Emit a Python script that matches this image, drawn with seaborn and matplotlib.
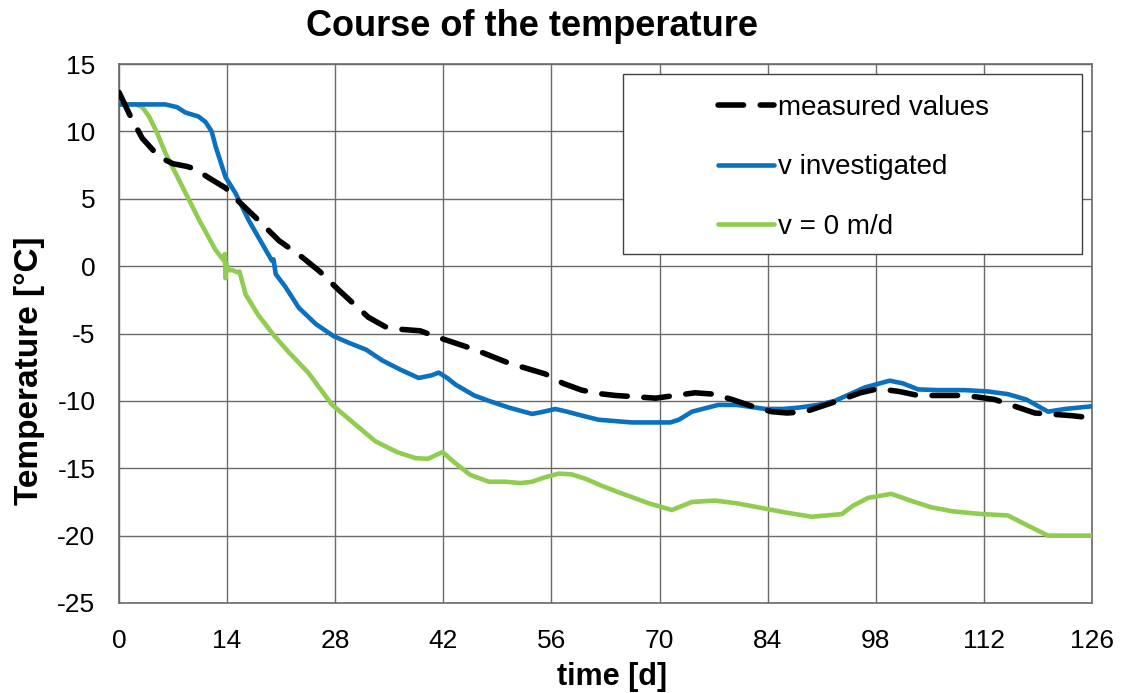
import matplotlib
matplotlib.use("Agg")
import matplotlib.pyplot as plt
import seaborn as sns
import pandas as pd
from matplotlib.patches import Rectangle

# ---- data ----
measured_days = [0, 1.5, 3, 5.2, 7, 8.8, 9.9, 11.5, 13.8, 15.5, 17.7, 20.7, 23.7, 26, 28.5,
                 32.3, 34.5, 36.7, 39, 41.4, 43.5, 46.1, 50.5, 55.2, 57.5, 59.9, 62, 64.3,
                 67, 69.5, 72, 74.6, 77, 79.4, 82, 84.5, 86.5, 88.9, 91, 93.6, 96, 98.3,
                 101, 103.5, 106, 108.7, 111, 113.4, 116, 118.6, 121, 123.4, 125]
measured_vals = [12.9, 11.1, 9.5, 8.1, 7.6, 7.4, 7.2, 6.6, 5.8, 4.8, 3.6, 1.9, 0.67, -0.4, -1.8,
                 -3.8, -4.5, -4.7, -4.8, -5.3, -5.7, -6.2, -7.2, -8.0, -8.7, -9.2, -9.45, -9.6,
                 -9.7, -9.8, -9.6, -9.4, -9.5, -9.9, -10.4, -10.8, -10.9, -10.8, -10.4, -9.9, -9.4, -9.1,
                 -9.3, -9.6, -9.6, -9.6, -9.7, -9.9, -10.4, -10.9, -11.0, -11.1, -11.2]

inv_days = [0, 3, 6, 7.5, 8.6, 10.3, 11.2, 12.0, 12.5, 13.8, 15.1, 16.8, 18.0, 19.0, 19.8, 20.0,
            20.3, 21.5, 23.3, 25.5, 27.8, 29.8, 32, 34.1, 36.5, 38.8, 40.5, 41.4, 42.5, 43.6, 46,
            47.9, 50.5, 53.5, 55, 56.5, 58, 60, 62.1, 66.4, 69, 71.4, 72.5, 74.2, 77.6, 80, 83.7,
            86, 88, 90.5, 92.7, 96.6, 99.8, 101.5, 103.5, 106, 109.5, 112.5, 115.1, 117.5, 120.3,
            122.5, 126]
inv_vals = [12, 12, 12, 11.8, 11.4, 11.1, 10.7, 10.0, 8.9, 6.6, 5.4, 3.4, 2.2, 1.2, 0.4, 0.5,
            -0.6, -1.5, -3.1, -4.3, -5.2, -5.7, -6.2, -7.0, -7.7, -8.3, -8.1, -7.9, -8.3, -8.8, -9.6,
            -10.0, -10.5, -10.97, -10.8, -10.6, -10.8, -11.1, -11.4, -11.6, -11.6, -11.6, -11.4, -10.8,
            -10.3, -10.3, -10.6, -10.6, -10.5, -10.3, -10.0, -9.0, -8.5, -8.7, -9.15, -9.2, -9.2, -9.3,
            -9.5, -9.9, -10.8, -10.6, -10.4]

zero_days = [0, 2.2, 3.0, 3.9, 5, 6.0, 8.2, 10.4, 12.5, 13.6, 13.7, 13.8, 13.9, 14.2, 14.7, 15.3,
             15.6, 16.4, 18, 20, 22, 24.5, 27.6, 30.5, 33.2, 36, 38.4, 40, 41.9, 43.5, 45.5, 47.9,
             50, 52, 53.5, 55, 56.9, 58.6, 60.5, 62.5, 64.3, 68.6, 71.6, 74.2, 77.2, 80, 83.7, 86.5,
             89.7, 93.6, 95, 97.0, 100, 102.5, 105.2, 108, 111.7, 115.1, 117.5, 120.3, 122, 126]
zero_vals = [12, 12, 11.8, 11.1, 9.8, 8.4, 5.9, 3.4, 1.2, 0.4, 0.9, -0.9, 0.2, -0.3, -0.3, -0.45,
             -0.4, -2.1, -3.6, -5.1, -6.4, -7.9, -10.3, -11.7, -13.0, -13.8, -14.25, -14.3, -13.8,
             -14.6, -15.5, -16.0, -16.0, -16.1, -16.0, -15.7, -15.4, -15.45, -15.8, -16.3, -16.7,
             -17.6, -18.1, -17.5, -17.4, -17.6, -18.0, -18.3, -18.6, -18.4, -17.8, -17.2, -16.9,
             -17.4, -17.9, -18.2, -18.4, -18.5, -19.2, -20.0, -20.0, -20.0]

x_ticks = [0, 14, 28, 42, 56, 70, 84, 98, 112, 126]
y_ticks = [-25, -20, -15, -10, -5, 0, 5, 10, 15]
labels = ["measured values", "v investigated", "v = 0 m/d"]
title = "Course of the temperature"
xlabel = "time [d]"
ylabel = "Temperature [°C]"

# ---- style ----
sns.set_style("white")
plt.rcParams['font.family'] = ['Liberation Sans', 'DejaVu Sans']
plt.rcParams['text.color'] = 'black'
plt.rcParams['axes.labelcolor'] = 'black'

fig = plt.figure(figsize=(11.21, 6.93), dpi=100)
ax = fig.add_axes([119/1121, 1 - 603/693, (1092-119)/1121, (603-64)/693])

grid_c = "#6a6a6a"
sns.lineplot(x=measured_days, y=measured_vals, ax=ax, color="black", linewidth=4.0,
             label=labels[0], zorder=5, sort=False)
sns.lineplot(x=inv_days, y=inv_vals, ax=ax, color="#0a70c0", linewidth=3.3,
             label=labels[1], zorder=4, sort=False)
sns.lineplot(x=zero_days, y=zero_vals, ax=ax, color="#8fcc4f", linewidth=3.3,
             label=labels[2], zorder=3, sort=False)
ax.lines[0].set_dashes([4.6, 3.0])
ax.lines[0].set_dash_capstyle("round")

ax.set_xlim(0, 126)
ax.set_ylim(-25, 15)
ax.set_xticks(x_ticks)
ax.set_yticks(y_ticks)
ax.set_xticklabels([str(v) for v in x_ticks])
ax.set_yticklabels([str(v) for v in y_ticks])
ax.grid(True, color=grid_c, lw=1.0)
ax.set_axisbelow(True)
for s in ax.spines.values():
    s.set_color(grid_c)
    s.set_linewidth(1.2)
ax.tick_params(axis="x", direction="out", length=5, width=1, color=grid_c,
               labelsize=19, pad=14, labelcolor="black")
ax.tick_params(axis="y", direction="out", length=5, width=1, color=grid_c,
               labelsize=19, pad=12, labelcolor="black")

ax.set_xlabel(xlabel, fontsize=22, fontweight="bold")
ax.set_ylabel(ylabel, fontsize=24, fontweight="bold")
ax.xaxis.set_label_coords((612-119)/973, (603-662)/539)
ax.yaxis.set_label_coords((45-119)/973, (603-371)/539)

fig.text(532/1121, 1 - 27/693, title, fontsize=26, fontweight="bold",
         ha="center", va="center", color="black")

# legend box and legend
ax.add_patch(Rectangle(((623-119)/973, (603-254)/539), (1082-623)/973, (254-74)/539,
                       transform=ax.transAxes, facecolor="white", edgecolor="#404040",
                       lw=1.0, zorder=6, clip_on=False))
leg = ax.legend(loc="upper left", bbox_to_anchor=(718/1121, 1 - 95/693),
                bbox_transform=fig.transFigure, frameon=False, fontsize=20,
                handlelength=2.0, handletextpad=0.15, labelspacing=1.2, borderpad=0,
                borderaxespad=0)
leg.set_zorder(7)
for t in leg.get_texts():
    t.set_color("black")

fig.savefig("out.png", dpi=100)
